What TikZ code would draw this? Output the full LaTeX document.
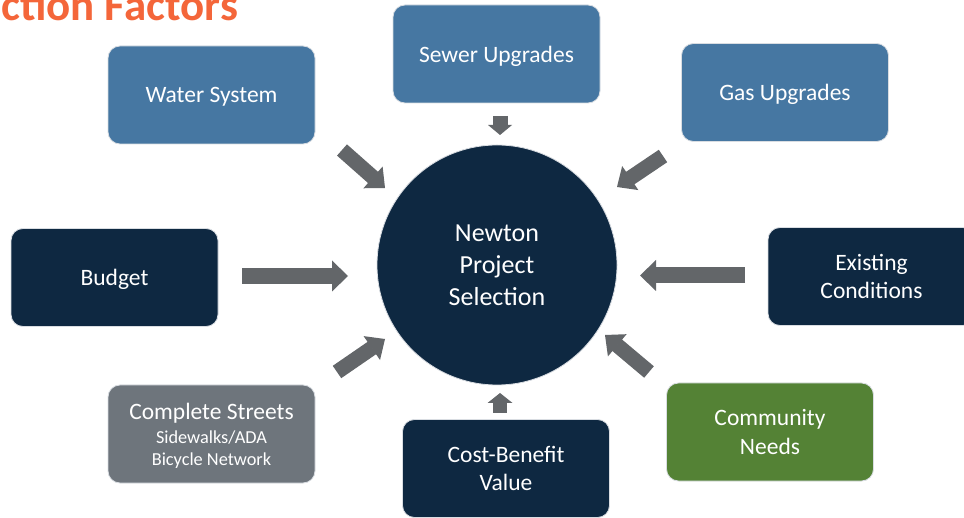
\documentclass[tikz,border=0pt]{standalone}
\usepackage{fontspec}
\setmainfont{Carlito}
\usetikzlibrary{calc}
\definecolor{steel}{HTML}{4677A2}
\definecolor{navy}{HTML}{0E2841}
\definecolor{slate}{HTML}{6E757C}
\definecolor{leaf}{HTML}{548235}
\definecolor{arrowgray}{HTML}{636669}
\definecolor{titleorange}{HTML}{F4663A}
\definecolor{edge}{HTML}{D9DDE2}
\newcommand\blockarr[5]{% tail, tip, shaft width, half head width, head length
  \coordinate (#2-b) at ($(#2)!#5!(#1)$);
  \draw[arrowgray, line width=#3] (#1) -- ($(#2)!#5-0.6pt!(#1)$);
  \fill[arrowgray] (#2) -- ($(#2-b)!#4!90:(#2)$) -- ($(#2-b)!#4!-90:(#2)$) -- cycle;
}
\begin{document}
\begin{tikzpicture}[x=1pt,y=-1pt,
  factor/.style={rectangle, rounded corners=12pt, draw=edge, line width=0.8pt,
    minimum width=207pt, minimum height=98pt, inner sep=2pt, align=center,
    text depth=0pt,
    text=white, font=\fontsize{23.5}{28.5}\selectfont},
  hub/.style={circle, draw=edge, line width=0.8pt, fill=navy, minimum size=240pt,
    inner sep=0pt, align=center, text=white, font=\fontsize{26}{32}\selectfont}
]
\useasboundingbox (0,0) rectangle (964,518);
\fill[white] (0,0) rectangle (964,518);

\node[anchor=base west, text=titleorange, font=\bfseries\fontsize{45}{45}\selectfont, inner sep=0pt] (title) at (1,21) {ction Factors};

\node[hub] (hub) at (497,265) {Newton\\Project\\Selection};

\node[factor, fill=steel] (water) at (211.5,95) {Water System};
\node[factor, fill=steel] (sewer) at (496.5,54) {Sewer Upgrades};
\node[factor, fill=steel] (gas) at (785,92.5) {Gas Upgrades};
\node[factor, fill=navy] (budget) at (114.5,277.5) {Budget};
\node[factor, fill=navy] (exist) at (871.5,276.5) {Existing\\Conditions};
\node[factor, fill=slate, font=\fontsize{23.5}{26}\selectfont] (streets) at (211.5,434)
  {Complete Streets\\[-2pt]{\fontsize{18.3}{22}\selectfont Sidewalks/ADA}\\[-4pt]{\fontsize{18.3}{22}\selectfont Bicycle Network}};
\node[factor, fill=navy] (cost) at (506,468.5) {Cost-Benefit\\Value};
\node[factor, fill=leaf] (comm) at (770,432) {Community\\Needs};

% arrow end points
\coordinate (waterT) at (342,150);  \coordinate (waterH) at (385,188);
\coordinate (sewerT) at (500,116);  \coordinate (sewerH) at (500,135);
\coordinate (gasT) at (663,156);    \coordinate (gasH) at (617,187);
\coordinate (budgetT) at (242,276); \coordinate (budgetH) at (348,276);
\coordinate (existT) at (745,275.5);\coordinate (existH) at (640,275.5);
\coordinate (streetsT) at (337,372);\coordinate (streetsH) at (385,339);
\coordinate (costT) at (500,413);   \coordinate (costH) at (500,393);
\coordinate (commT) at (649,372);   \coordinate (commH) at (605,335);

\blockarr{waterT}{waterH}{15pt}{14.5pt}{16pt}
\blockarr{sewerT}{sewerH}{15pt}{12pt}{10pt}
\blockarr{gasT}{gasH}{15pt}{14.5pt}{16pt}
\blockarr{budgetT}{budgetH}{16pt}{15.5pt}{16pt}
\blockarr{existT}{existH}{16pt}{15.5pt}{16pt}
\blockarr{streetsT}{streetsH}{15pt}{14.5pt}{16pt}
\blockarr{costT}{costH}{14pt}{12.5pt}{10pt}
\blockarr{commT}{commH}{15pt}{14.5pt}{16pt}
\end{tikzpicture}
\end{document}
